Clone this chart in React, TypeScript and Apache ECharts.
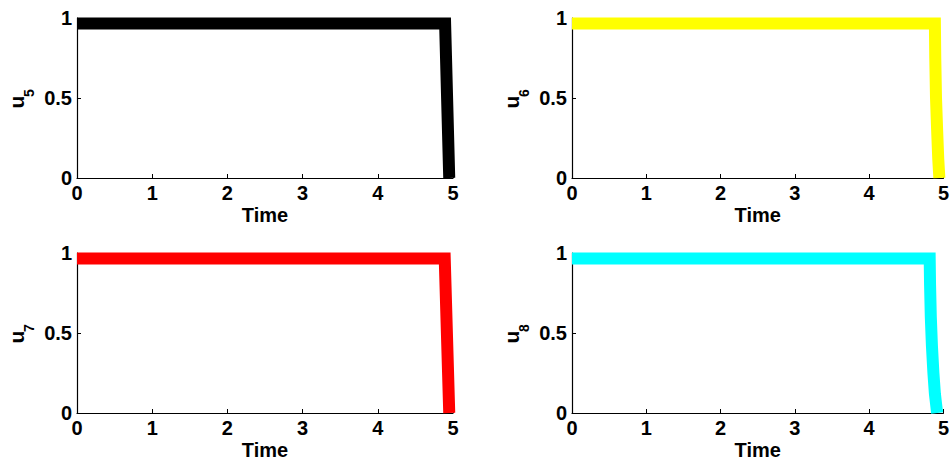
import React, { useEffect, useRef } from "react";
import * as echarts from "echarts";

const xTicks = [0, 1, 2, 3, 4, 5];
const yTicks = [0, 0.5, 1];

const u5Time = [0, 4.895, 4.95];
const u5Values = [0.965, 0.965, 0];
const u6Time = [0, 4.885, 4.89, 4.9, 4.915, 4.93, 4.945];
const u6Values = [0.965, 0.965, 0.75, 0.5, 0.3, 0.12, 0];
const u7Time = [0, 4.89, 4.95];
const u7Values = [0.965, 0.965, 0];
const u8Time = [0, 4.815, 4.82, 4.83, 4.845, 4.865, 4.885, 4.905, 4.915];
const u8Values = [0.965, 0.965, 0.8, 0.6, 0.42, 0.25, 0.12, 0.04, 0];

const seriesNames = ["5", "6", "7", "8"];
const seriesColors = ["#000000", "#ffff00", "#ff0000", "#00ffff"];
const seriesTimes = [u5Time, u6Time, u7Time, u8Time];
const seriesValues = [u5Values, u6Values, u7Values, u8Values];

const FONT = "'Liberation Sans', Arial, Helvetica, sans-serif";

const grids = [
  { left: 77, top: 18, width: 376, height: 160 },
  { left: 572, top: 18, width: 375, height: 160 },
  { left: 77, top: 253, width: 376, height: 160 },
  { left: 572, top: 253, width: 375, height: 160 },
];

export default function App() {
  const ref = useRef<HTMLDivElement>(null);
  useEffect(() => {
    if (!ref.current) return;
    const chart = echarts.init(ref.current, null, { renderer: "svg" });
    const axisCommon = {
      axisLine: { show: true, lineStyle: { color: "#000", width: 1.2 } },
      axisTick: { show: true, inside: true, length: 4, lineStyle: { color: "#000", width: 1 } },
      splitLine: { show: false },
      axisLabel: {
        color: "#000",
        fontFamily: FONT,
        fontWeight: "bold" as const,
        fontSize: 20,
      },
    };
    const graphic: any[] = [];
    grids.forEach((g, i) => {
      const cy = g.top + g.height / 2;
      const dx = i % 2 === 1 ? 495 : 0;
      graphic.push({
        type: "text",
        x: 16.5 + dx,
        y: cy + 4,
        rotation: Math.PI / 2,
        style: {
          text: "u",
          fontFamily: FONT,
          fontWeight: "bold",
          fontSize: 21,
          fill: "#000",
          align: "center",
          verticalAlign: "middle",
        },
      });
      graphic.push({
        type: "text",
        x: 29 + dx,
        y: cy - 5,
        rotation: Math.PI / 2,
        style: {
          text: seriesNames[i],
          fontFamily: FONT,
          fontWeight: "bold",
          fontSize: 14,
          fill: "#000",
          align: "center",
          verticalAlign: "middle",
        },
      });
    });
    chart.setOption({
      animation: false,
      backgroundColor: "#ffffff",
      grid: grids.map((g) => ({ ...g, containLabel: false })),
      xAxis: grids.map((_, i) => ({
        type: "value",
        gridIndex: i,
        min: xTicks[0],
        max: xTicks[xTicks.length - 1],
        interval: 1,
        ...axisCommon,
        axisLabel: { ...axisCommon.axisLabel, margin: 5 },
        name: "Time",
        nameLocation: "middle",
        nameGap: 27,
        nameTextStyle: {
          color: "#000",
          fontFamily: FONT,
          fontWeight: "bold",
          fontSize: 20,
          verticalAlign: "top",
        },
      })),
      yAxis: grids.map((_, i) => ({
        type: "value",
        gridIndex: i,
        min: yTicks[0],
        max: yTicks[yTicks.length - 1],
        interval: 0.5,
        ...axisCommon,
        axisLabel: { ...axisCommon.axisLabel, margin: 5 },
      })),
      graphic,
      series: seriesTimes.map((times, i) => ({
        type: "line",
        xAxisIndex: i,
        yAxisIndex: i,
        showSymbol: false,
        symbol: "none",
        clip: true,
        data: times.map((t, k) => [t, seriesValues[i][k]]),
        lineStyle: { color: seriesColors[i], width: 12, join: "miter", cap: "butt" },
      })),
    });
    return () => chart.dispose();
  }, []);
  return (
    <div
      ref={ref}
      style={{ position: "fixed", left: 0, top: 0, width: 952, height: 463, background: "#fff" }}
    />
  );
}
